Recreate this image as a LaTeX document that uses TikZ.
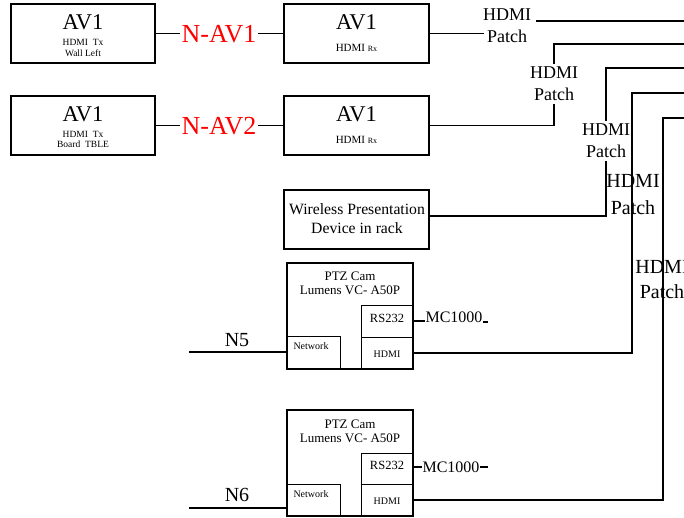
\documentclass[tikz,border=0pt]{standalone}
\usepackage{fontspec}
\setmainfont{Liberation Serif}
\begin{document}
\begin{tikzpicture}[x=1pt,y=-1pt,
  box/.style={draw, line width=1.6pt, inner sep=0pt},
  sub/.style={draw, line width=0.9pt, inner sep=0pt},
  wire/.style={line width=1.4pt},
  txt/.style={inner sep=0pt, anchor=base},
  fs/.style={font=\fontsize{#1}{#1}\selectfont},
  patch/.style={inner sep=3pt, anchor=base, font=\fontsize{18}{22}\selectfont},
  bigpatch/.style={inner sep=3pt, anchor=base, font=\fontsize{20}{24}\selectfont},
  red label/.style={inner sep=1pt, anchor=base, text=red, font=\fontsize{26}{28}\selectfont}]
\useasboundingbox (0,0) rectangle (684,518);

% AV1 transmitter boxes
\node[box, minimum width=144pt, minimum height=59pt] (tx1) at (83,33.5) {};
\node[txt, fs=22.5] (tx1a) at (83,30) {AV1};
\node[txt, fs=9.5] (tx1b) at (83,46) {HDMI\ \ Tx};
\node[txt, fs=9.5] (tx1c) at (83,57) {Wall Left};

\node[box, minimum width=144pt, minimum height=59pt] (tx2) at (83,125.5) {};
\node[txt, fs=22.5] (tx2a) at (83,122) {AV1};
\node[txt, fs=9.5] (tx2b) at (83,138) {HDMI\ \ Tx};
\node[txt, fs=9.5] (tx2c) at (83,148) {Board\ \ TBLE};

% AV1 receiver boxes
\node[box, minimum width=145pt, minimum height=59pt] (rx1) at (356.5,33.5) {};
\node[txt, fs=22.5] (rx1a) at (356.5,30) {AV1};
\node[txt] (rx1b) at (356.5,52) {\fontsize{11}{11}\selectfont HDMI \fontsize{8}{8}\selectfont Rx};

\node[box, minimum width=145pt, minimum height=59pt] (rx2) at (356.5,125.5) {};
\node[txt, fs=22.5] (rx2a) at (356.5,122) {AV1};
\node[txt] (rx2b) at (356.5,144) {\fontsize{11}{11}\selectfont HDMI \fontsize{8}{8}\selectfont Rx};

% red link labels
\node[red label] (nav1) at (219,43) {N-AV1};
\node[red label] (nav2) at (219,135) {N-AV2};

% wireless presentation
\node[box, minimum width=145pt, minimum height=59pt] (ww) at (356.5,219.5) {};
\node[txt, fs=15.7] (wwa) at (357,215) {Wireless Presentation};
\node[txt, fs=15.7] (wwb) at (357,234) {Device in rack};

% camera 1
\node[box, minimum width=126pt, minimum height=106pt] (cam1) at (350,316) {};
\node[sub, minimum width=52pt, minimum height=32pt] (rs1) at (387,321) {};
\node[sub, minimum width=52pt, minimum height=32pt] (hd1) at (387,353) {};
\node[sub, minimum width=53pt, minimum height=33pt] (nw1) at (313.5,352.5) {};
\node[txt, fs=13] (cam1a) at (350,280) {PTZ Cam};
\node[txt, fs=13] (cam1b) at (350,294) {Lumens VC- A50P};
\node[txt, fs=12.5] (rs1t) at (387,322) {RS232};
\node[txt, fs=10] (hd1t) at (387,357) {HDMI};
\node[txt, fs=10] (nw1t) at (311,349) {Network};

% camera 2
\node[box, minimum width=126pt, minimum height=106pt] (cam2) at (350,463) {};
\node[sub, minimum width=52pt, minimum height=31pt] (rs2) at (387,468.5) {};
\node[sub, minimum width=52pt, minimum height=32pt] (hd2) at (387,500) {};
\node[sub, minimum width=53pt, minimum height=32pt] (nw2) at (313.5,500) {};
\node[txt, fs=13] (cam2a) at (350,428) {PTZ Cam};
\node[txt, fs=13] (cam2b) at (350,442) {Lumens VC- A50P};
\node[txt, fs=12.5] (rs2t) at (387,469) {RS232};
\node[txt, fs=10] (hd2t) at (387,504) {HDMI};
\node[txt, fs=10] (nw2t) at (311,497) {Network};

% MC1000 labels
\node[inner sep=0.5pt, anchor=base, fs=16] (mc1) at (454,322) {MC1000};
\node[inner sep=0.5pt, anchor=base, fs=16] (mc2) at (451,472.5) {MC1000};
\coordinate (mc1e) at (488,322);
\coordinate (mc2e) at (488,467);

% N5 / N6
\node[txt, fs=20] (n5) at (237,346) {N5};
\node[txt, fs=20] (n6) at (237,501) {N6};
\coordinate (n5s) at (189,352);
\coordinate (n6s) at (189,508);

% HDMI patch labels
\node[patch] (p1h) at (507,21) {HDMI};
\node[patch] (p1p) at (507,43) {Patch};
\node[patch] (p2h) at (554,79) {HDMI};
\node[patch] (p2p) at (554,101) {Patch};
\node[patch] (p3h) at (606,136) {HDMI};
\node[patch] (p3p) at (606,158) {Patch};
\node[bigpatch] (p4h) at (633,188) {HDMI};
\node[bigpatch] (p4p) at (633,215) {Patch};
\node[bigpatch] (p5h) at (662,273) {HDMI};
\node[bigpatch] (p5p) at (662,298) {Patch};

% right-edge ends
\coordinate (e1) at (684,20);
\coordinate (e2) at (684,44);
\coordinate (e3) at (684,68);
\coordinate (c4) at (632,93);
\coordinate (e4) at (684,93);
\coordinate (c5) at (663,118);
\coordinate (e5) at (684,118);

% connectors
\draw[wire] (tx1.east) -- (tx1.east -| nav1.west);
\draw[wire] (nav1.east |- rx1.west) -- (rx1.west);
\draw[wire] (tx2.east) -- (tx2.east -| nav2.west);
\draw[wire] (nav2.east |- rx2.west) -- (rx2.west);

\draw[wire] (rx1.east) -- (rx1.east -| p1p.west);
\draw[wire] ([xshift=2pt]p1h.base east) -- (p1h.base east -| e1);

\draw[wire] (rx2.east) -- (rx2.east -| p2p.south) -- (p2p.south);
\draw[wire] (p2h.north) -- (p2h.north |- e2) -- (e2);

\draw[wire] ([yshift=3.5pt]ww.east) -- ([yshift=3.5pt]ww.east -| p3p.south) -- (p3p.south);
\draw[wire] (p3h.north) -- (p3h.north |- e3) -- (e3);

\draw[wire] (hd1.east) -- (hd1.east -| c4) -- (c4) -- (e4);
\draw[wire] (hd2.east) -- (hd2.east -| c5) -- (c5) -- (e5);

\draw[wire] (n5s) -- (n5s -| cam1.west);
\draw[wire] (n6s) -- (n6s -| cam2.west);

\draw[wire] (rs1.east) -- (rs1.east -| mc1.west);
\draw[wire] (mc1.east |- mc1e) -- (mc1e);
\draw[wire] ([yshift=1.5pt]rs2.east) -- ([yshift=1.5pt]rs2.east -| mc2.west);
\draw[wire] (mc2.east |- mc2e) -- (mc2e);
\end{tikzpicture}
\end{document}
